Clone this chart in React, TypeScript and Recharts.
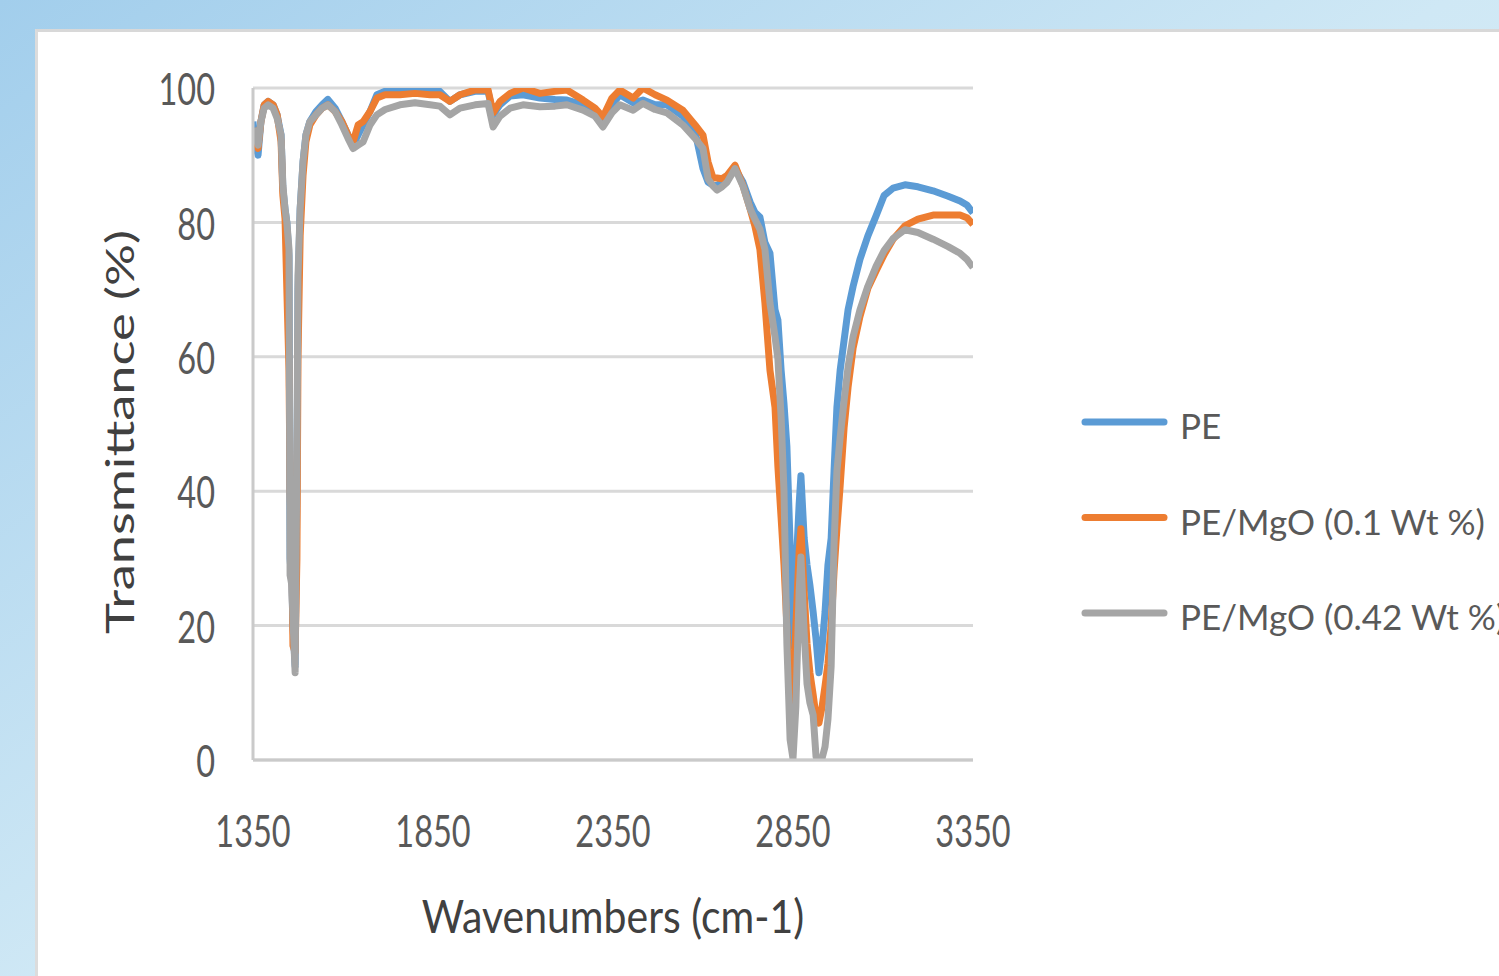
import React from "react";
import { LineChart, Line, XAxis, YAxis, CartesianGrid, Legend } from "recharts";

// wavenumbers (cm-1) sampled off the spectrum
const wavenumbers = [
  1350, 1356, 1364, 1372, 1381, 1392, 1406, 1417, 1428, 1433,
  1439, 1444, 1450, 1453, 1458, 1461, 1467, 1472, 1475, 1481,
  1489, 1497, 1508, 1525, 1542, 1558, 1578, 1597, 1614, 1628,
  1642, 1656, 1675, 1694, 1717, 1758, 1800, 1842, 1869, 1897,
  1925, 1967, 2003, 2017, 2036, 2064, 2100, 2147, 2189, 2222,
  2267, 2300, 2322, 2347, 2369, 2406, 2433, 2467, 2500, 2544,
  2578, 2600, 2614, 2628, 2639, 2653, 2667, 2689, 2711, 2731,
  2744, 2758, 2772, 2786, 2800, 2808, 2817, 2825, 2833, 2842,
  2850, 2858, 2867, 2872, 2881, 2889, 2897, 2906, 2914, 2922,
  2931, 2939, 2947, 2956, 2964, 2972, 2981, 2992, 3003, 3017,
  3036, 3058, 3081, 3103, 3128, 3161, 3197, 3239, 3281, 3314,
  3333, 3350,
];

const pe = [
  95, 92, 90, 95, 97.5, 98, 97.5, 96, 93, 85,
  82, 80, 75, 30, 26, 20, 14, 40, 70, 82,
  89, 93, 95, 96.5, 97.5, 98.3, 97, 95, 93, 91.5,
  93, 94.5, 96.5, 99, 99.5, 99.7, 100, 99.8, 99.5, 98,
  99, 99.5, 99.5, 96, 97.5, 98.8, 99, 98.5, 98.3, 98.2,
  97.5, 96.5, 95.5, 97.5, 99, 97.8, 98.2, 97.5, 97.5, 95.8,
  93.5, 88, 86, 85.5, 85.5, 86, 86.5, 88, 86, 83,
  81.5, 80.8, 77, 75.4, 67, 65.5, 58, 53, 46.7, 32,
  17, 28, 38, 42.3, 33, 29, 26, 22, 18, 13,
  17, 22, 29, 33, 43, 52.5, 58, 62.5, 67, 70.5,
  74.5, 78, 81, 84, 85.1, 85.6, 85.3, 84.7, 83.9, 83.2,
  82.6, 81.4,
];

const mgo01 = [
  94, 92.5, 91, 95, 97.5, 98, 97.5, 96, 92, 84,
  80.5, 70, 58, 40, 30, 17, 16, 30, 60, 78,
  87, 92, 94.5, 96, 97, 97.5, 96.5, 95, 93, 92,
  94.5, 95, 96.5, 98.5, 99, 99, 99.2, 99, 99, 98,
  99, 99.7, 99.7, 96.3, 98, 99.2, 100, 99.2, 99.5, 99.7,
  98.2, 97, 95.7, 98.5, 99.7, 98.5, 100, 99, 98.2, 96.7,
  94.5, 93, 89, 86.6, 86.6, 86.5, 87, 88.5, 85.5, 82,
  79.5, 76, 68, 58, 52.5, 43.7, 36, 29, 20, 10,
  7, 20, 31, 34.4, 25, 17.3, 13, 9.7, 6.5, 5.5,
  8, 11, 14.3, 20, 28, 34.4, 40.8, 49.5, 55.5, 61.3,
  66, 70.2, 72.8, 75.2, 77.5, 79.5, 80.5, 81.1, 81.1, 81.1,
  80.7, 79.7,
];

const mgo042 = [
  94, 93, 91.5, 95, 97, 97.5, 97, 95.5, 93, 85.5,
  82, 80, 76, 27.5, 26, 21, 13, 45, 72, 82,
  89, 93, 95, 96, 97, 97.5, 96.5, 94.5, 92.5, 91,
  91.5, 92, 94.5, 96, 96.8, 97.5, 97.8, 97.5, 97.3, 96,
  97, 97.5, 97.7, 94.2, 95.8, 97, 97.5, 97.2, 97.3, 97.5,
  96.7, 95.8, 94.2, 96.3, 97.5, 96.7, 97.7, 96.8, 96.3, 94.5,
  92.5, 91, 86.5, 85.4, 84.8, 85.3, 86, 88, 85.4, 82,
  80.5, 79, 76, 68, 63, 59.7, 51, 40, 17.3, 3,
  0.2, 8, 25, 30.2, 19, 11.3, 8.5, 6.7, 0.5, 0.2,
  0.3, 2, 6, 14, 32, 43, 48, 53.5, 58.5, 63,
  67, 70.5, 73.5, 75.8, 77.6, 78.9, 78.5, 77.5, 76.4, 75.4,
  74.5, 73.3,
];

const xTicks = [1350, 1850, 2350, 2850, 3350];
const yTicks = [0, 20, 40, 60, 80, 100];

const rows = wavenumbers.map((w, i) => ({
  w,
  pe: pe[i],
  mgo01: mgo01[i],
  mgo042: mgo042[i],
}));

const FONT = "Lato, 'Open Sans', sans-serif";

function XTick(props: any) {
  const { x, y, payload } = props;
  return (
    <text
      transform={`translate(${x},${y + 70}) scale(1,1.37)`}
      textAnchor="middle"
      dominantBaseline="central"
      fontFamily={FONT}
      fontSize={32.5}
      fill="#595959"
    >
      {payload.value}
    </text>
  );
}

function YTick(props: any) {
  const { x, y, payload } = props;
  return (
    <text
      transform={`translate(${x - 38},${y}) scale(1,1.37)`}
      textAnchor="end"
      dominantBaseline="central"
      fontFamily={FONT}
      fontSize={32.5}
      fill="#595959"
    >
      {payload.value}
    </text>
  );
}

function XTitle(props: any) {
  const vb = props.viewBox || { x: 253, y: 760, width: 720, height: 216 };
  return (
    <text
      transform={`translate(${vb.x + vb.width / 2},${vb.y + 155}) scale(1,1.12)`}
      textAnchor="middle"
      dominantBaseline="central"
      fontFamily={FONT}
      fontSize={41}
      fill="#404040"
    >
      Wavenumbers (cm-1)
    </text>
  );
}

function YTitle(props: any) {
  const vb = props.viewBox || { x: 0, y: 88, width: 253, height: 672 };
  return (
    <text
      transform={`translate(${vb.x + 120},${vb.y + vb.height / 2 + 8}) scale(1,1.39) rotate(-90)`}
      textAnchor="middle"
      dominantBaseline="central"
      fontFamily={FONT}
      fontSize={37.7}
      fill="#404040"
    >
      Transmittance (%)
    </text>
  );
}

function LegendBox(props: any) {
  const items = props.payload || [];
  return (
    <svg width={421} height={270} style={{ display: "block" }}>
      {items.map((item: any, i: number) => {
        const cy = 42 + i * 95.5;
        return (
          <g key={item.value}>
            <line
              x1={7}
              x2={86}
              y1={cy}
              y2={cy}
              stroke={item.color}
              strokeWidth={7}
              strokeLinecap="round"
            />
            <text
              x={102}
              y={cy + 3}
              dominantBaseline="central"
              fontFamily={FONT}
              fontSize={35}
              fill="#595959"
            >
              {item.value}
            </text>
          </g>
        );
      })}
    </svg>
  );
}

export default function App() {
  return (
    <div
      style={{
        position: "absolute",
        left: 0,
        top: 0,
        width: 1499,
        height: 976,
        overflow: "hidden",
        background: "linear-gradient(145deg, #a2ceec 0%, #cfe8f5 50%, #e4f2fa 100%)",
      }}
    >
      <div
        style={{
          position: "absolute",
          left: 35,
          top: 29,
          right: 0,
          bottom: 0,
          background: "#ffffff",
          borderTop: "3px solid #d8d8d8",
          borderLeft: "3px solid #dcdcdc",
        }}
      />
      <div style={{ position: "absolute", left: 0, top: 0 }}>
        <LineChart
          width={1499}
          height={976}
          data={rows}
          margin={{ top: 88, right: 526, bottom: 0, left: 0 }}
        >
          <CartesianGrid vertical={false} stroke="#d9d9d9" strokeWidth={3} />
          <XAxis
            dataKey="w"
            type="number"
            domain={[1350, 3350]}
            ticks={xTicks}
            height={216}
            tickSize={0}
            tickMargin={0}
            tickLine={false}
            axisLine={{ stroke: "#cacaca", strokeWidth: 3 }}
            tick={<XTick />}
            label={{ value: "Wavenumbers (cm-1)", content: XTitle }}
            allowDataOverflow
          />
          <YAxis
            type="number"
            domain={[0, 100]}
            ticks={yTicks}
            width={253}
            tickSize={0}
            tickMargin={0}
            tickLine={false}
            axisLine={{ stroke: "#cacaca", strokeWidth: 3 }}
            tick={<YTick />}
            label={{ value: "Transmittance (%)", content: YTitle }}
            allowDataOverflow
          />
          <Legend
            layout="vertical"
            align="center"
            verticalAlign="middle"
            content={LegendBox}
            wrapperStyle={{ left: 1078, top: 380, width: 421, height: 270 }}
          />
          <Line
            type="linear"
            dataKey="pe"
            name="PE"
            stroke="#5b9bd5"
            strokeWidth={7}
            strokeLinejoin="round"
            dot={false}
            isAnimationActive={false}
          />
          <Line
            type="linear"
            dataKey="mgo01"
            name="PE/MgO (0.1 Wt %)"
            stroke="#ed7d31"
            strokeWidth={7}
            strokeLinejoin="round"
            dot={false}
            isAnimationActive={false}
          />
          <Line
            type="linear"
            dataKey="mgo042"
            name="PE/MgO (0.42 Wt %)"
            stroke="#a5a5a5"
            strokeWidth={7}
            strokeLinejoin="round"
            dot={false}
            isAnimationActive={false}
          />
        </LineChart>
      </div>
    </div>
  );
}
